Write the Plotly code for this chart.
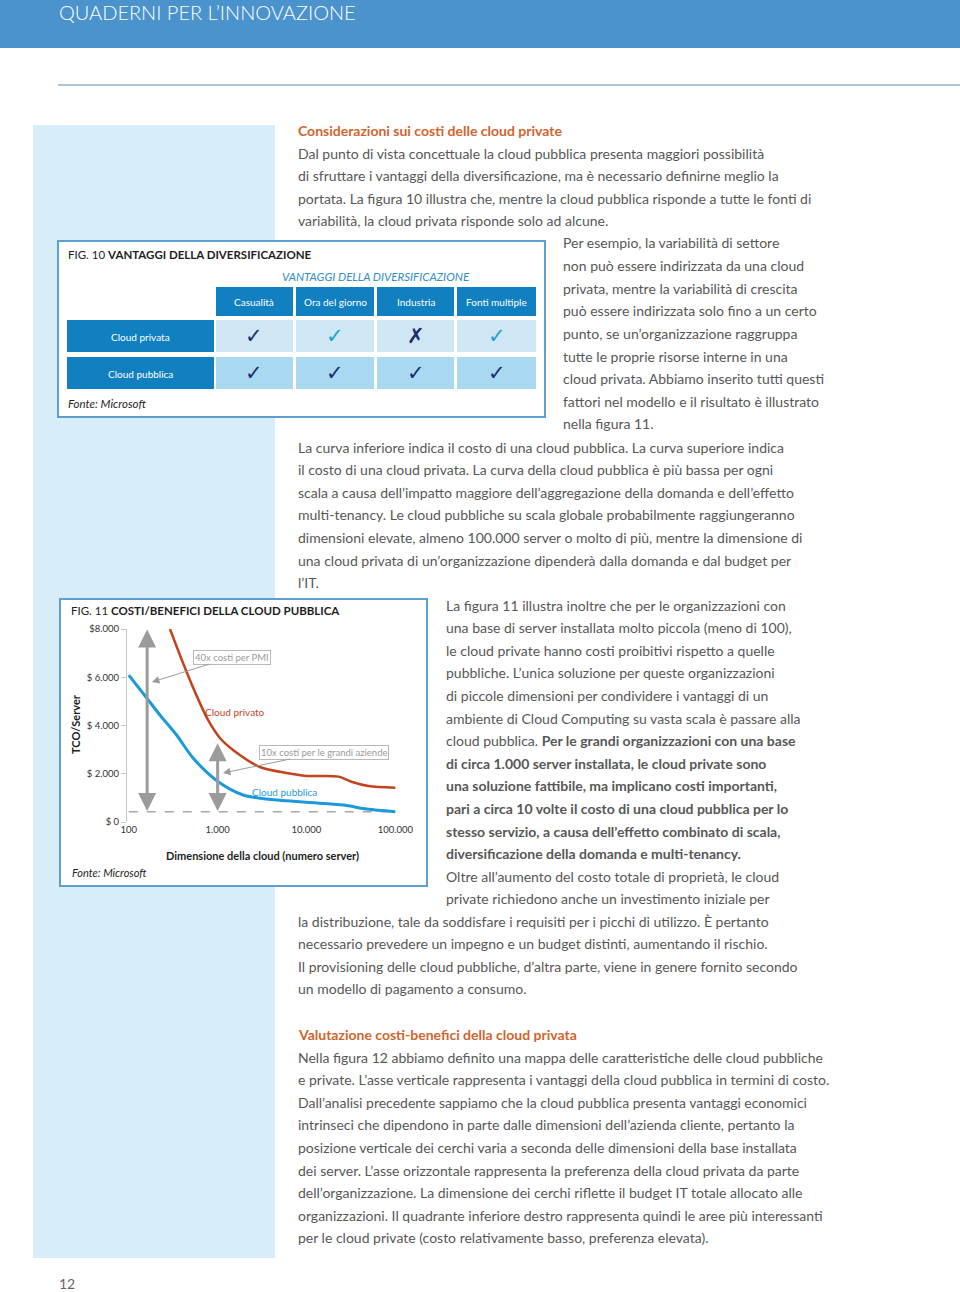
import plotly.graph_objects as go
import numpy as np

W, H = 960, 1292
FONT = "Lato"

# ---------------- Data: FIG. 11 ----------------
public_servers = [100, 160, 224, 345, 532, 1016, 1940, 3560, 10000, 25900, 47800, 100000]
public_tco = [6090, 5130, 4435, 3606, 2640, 1670, 1120, 950, 815, 700, 540, 430]
private_servers = [291, 408, 556, 780, 1062, 1490, 2990, 6000, 10000, 23000, 32000, 50000, 100000]
private_tco = [8000, 6590, 5390, 4230, 3480, 2985, 2280, 2030, 1910, 1880, 1670, 1490, 1420]
baseline_servers = [100, 100000]
baseline_tco = [430, 430]
x_ticks = [100, 1000, 10000, 100000]
x_ticklabels = ["100", "1.000", "10.000", "100.000"]
y_ticks = [0, 2000, 4000, 6000, 8000]
y_ticklabels = ["$ 0", "$ 2.000", "$ 4.000", "$ 6.000", "$8.000"]
gap_pmi_servers = 161
gap_pmi_range = [455, 8040]
gap_big_servers = 1000
gap_big_range = [455, 3325]

# ---------------- Data: FIG. 10 ----------------
fig10_columns = ["Casualità", "Ora del giorno", "Industria", "Fonti multiple"]
fig10_rows = ["Cloud privata", "Cloud pubblica"]
fig10_marks = [["✓", "✓", "✗", "✓"], ["✓", "✓", "✓", "✓"]]
fig10_highlight = [[0, 1, 0, 1], [0, 0, 0, 0]]

# ---------------- Text ----------------
header_title = "QUADERNI PER L’INNOVAZIONE"
heading1 = "Considerazioni sui costi delle cloud private"
heading2 = "Valutazione costi-benefici della cloud privata"
block1 = [
    "Dal punto di vista concettuale la cloud pubblica presenta maggiori possibilità",
    "di sfruttare i vantaggi della diversificazione, ma è necessario definirne meglio la",
    "portata. La figura 10 illustra che, mentre la cloud pubblica risponde a tutte le fonti di",
    "variabilità, la cloud privata risponde solo ad alcune.",
]
block2 = [
    "Per esempio, la variabilità di settore",
    "non può essere indirizzata da una cloud",
    "privata, mentre la variabilità di crescita",
    "può essere indirizzata solo fino a un certo",
    "punto, se un’organizzazione raggruppa",
    "tutte le proprie risorse interne in una",
    "cloud privata. Abbiamo inserito tutti questi",
    "fattori nel modello e il risultato è illustrato",
    "nella figura 11.",
]
block3 = [
    "La curva inferiore indica il costo di una cloud pubblica. La curva superiore indica",
    "il costo di una cloud privata. La curva della cloud pubblica è più bassa per ogni",
    "scala a causa dell’impatto maggiore dell’aggregazione della domanda e dell’effetto",
    "multi-tenancy. Le cloud pubbliche su scala globale probabilmente raggiungeranno",
    "dimensioni elevate, almeno 100.000 server o molto di più, mentre la dimensione di",
    "una cloud privata di un’organizzazione dipenderà dalla domanda e dal budget per",
    "l’IT.",
]
block4 = [
    "La figura 11 illustra inoltre che per le organizzazioni con",
    "una base di server installata molto piccola (meno di 100),",
    "le cloud private hanno costi proibitivi rispetto a quelle",
    "pubbliche. L’unica soluzione per queste organizzazioni",
    "di piccole dimensioni per condividere i vantaggi di un",
    "ambiente di Cloud Computing su vasta scala è passare alla",
    "cloud pubblica. <b>Per le grandi organizzazioni con una base</b>",
    "<b>di circa 1.000 server installata, le cloud private sono</b>",
    "<b>una soluzione fattibile, ma implicano costi importanti,</b>",
    "<b>pari a circa 10 volte il costo di una cloud pubblica per lo</b>",
    "<b>stesso servizio, a causa dell’effetto combinato di scala,</b>",
    "<b>diversificazione della domanda e multi-tenancy.</b>",
    "Oltre all’aumento del costo totale di proprietà, le cloud",
    "private richiedono anche un investimento iniziale per",
]
block5 = [
    "la distribuzione, tale da soddisfare i requisiti per i picchi di utilizzo. È pertanto",
    "necessario prevedere un impegno e un budget distinti, aumentando il rischio.",
    "Il provisioning delle cloud pubbliche, d’altra parte, viene in genere fornito secondo",
    "un modello di pagamento a consumo.",
]
block6 = [
    "Nella figura 12 abbiamo definito una mappa delle caratteristiche delle cloud pubbliche",
    "e private. L’asse verticale rappresenta i vantaggi della cloud pubblica in termini di costo.",
    "Dall’analisi precedente sappiamo che la cloud pubblica presenta vantaggi economici",
    "intrinseci che dipendono in parte dalle dimensioni dell’azienda cliente, pertanto la",
    "posizione verticale dei cerchi varia a seconda delle dimensioni della base installata",
    "dei server. L’asse orizzontale rappresenta la preferenza della cloud privata da parte",
    "dell’organizzazione. La dimensione dei cerchi riflette il budget IT totale allocato alle",
    "organizzazioni. Il quadrante inferiore destro rappresenta quindi le aree più interessanti",
    "per le cloud private (costo relativamente basso, preferenza elevata).",
]

# ---------------- Helpers ----------------
def X(px):
    return px / W

def Y(py):
    return 1 - py / H

shapes = []
anns = []

def rect(x0, y0, x1, y1, fill, line=None, lw=0):
    shapes.append(dict(type="rect", xref="paper", yref="paper",
                       x0=X(x0), x1=X(x1), y0=Y(y1), y1=Y(y0),
                       fillcolor=fill, line=dict(color=line or "rgba(0,0,0,0)", width=lw),
                       layer="below"))

def hline(x0, x1, y, color, w=1):
    shapes.append(dict(type="line", xref="paper", yref="paper",
                       x0=X(x0), x1=X(x1), y0=Y(y), y1=Y(y),
                       line=dict(color=color, width=w), layer="below"))

def text(x, y, s, size=14, color="#555555", anchor="left", family=FONT, angle=0, weight=None):
    f = dict(size=size, color=color, family=family)
    if weight:
        f["weight"] = weight
    anns.append(dict(xref="paper", yref="paper", x=X(x), y=Y(y), text=s,
                     showarrow=False, xanchor=anchor, yanchor="middle",
                     font=f, textangle=angle, borderpad=0))

BODY = 14
LH = 22.6
BODY_COLOR = "#575757"
ORANGE = "#d2642d"

# ---------------- Page background ----------------
rect(0, 0, W, 48, "#4b93cc")
text(58, 12, header_title, size=20, color="white", weight=300)
hline(58, W, 85, "#8fb3d6", 1.5)
rect(33, 125, 275, 1258, "#d7edf8")

# ---------------- Body text ----------------
text(297, 130, "<b>" + heading1 + "</b>", size=BODY, color=ORANGE)

def block(lines, x, y0):
    for i, s in enumerate(lines):
        text(x, y0 + i * LH, s, size=BODY, color=BODY_COLOR)

block(block1, 297, 153)
block(block2, 562, 243)
block(block3, 297, 447)
block(block4, 445, 605)
block(block5, 297, 921)
text(297, 1034, "<b>" + heading2 + "</b>", size=BODY, color=ORANGE)
block(block6, 297, 1057)
text(58, 1283, "12", size=14, color="#666666")

# ---------------- FIG. 10 table ----------------
rect(58, 241, 545, 417, "white", "#5b9fd3", 2)
text(67, 254, "FIG. 10 <b>VANTAGGI DELLA DIVERSIFICAZIONE</b>", size=11.5, color="#1e1e1e")
text(376, 276, "<i>VANTAGGI DELLA DIVERSIFICAZIONE</i>", size=11.5, color="#2f8dc6", anchor="center")
col_x = [(216, 293), (296, 374), (377, 454), (457, 536)]
row_y = [(320, 352), (357, 389)]
HEAD_BLUE = "#1180c1"
row_fill = ["#cfe6f4", "#a9d8f1"]
for (x0, x1), name in zip(col_x, fig10_columns):
    rect(x0, 287, x1, 316, HEAD_BLUE)
    text((x0 + x1) / 2, 301.5, name, size=10, color="white", anchor="center")
for r, ((y0, y1), name) in enumerate(zip(row_y, fig10_rows)):
    rect(67, y0, 214, y1, HEAD_BLUE)
    text(140.5, (y0 + y1) / 2 + 1, name, size=10, color="white", anchor="center")
    for c, (x0, x1) in enumerate(col_x):
        rect(x0, y0, x1, y1, row_fill[r])
        col = "#1aa3c9" if fig10_highlight[r][c] else "#1b2d6b"
        text((x0 + x1) / 2, (y0 + y1) / 2, "<b>" + fig10_marks[r][c] + "</b>", size=21,
             color=col, anchor="center", family="DejaVu Sans")
text(67, 403, "<i>Fonte: Microsoft</i>", size=11.5, color="#1e1e1e")

# ---------------- FIG. 11 chart ----------------
rect(60, 599, 427, 886, "white", "#5b9fd3", 2)
text(70, 610, "FIG. 11 <b>COSTI/BENEFICI DELLA CLOUD PUBBLICA</b>", size=11.5, color="#1e1e1e")
text(75, 724, "<b>TCO/Server</b>", size=11, color="#1e1e1e", anchor="center", angle=-90)
text(262, 855, "<b>Dimensione della cloud (numero server)</b>", size=11, color="#1e1e1e", anchor="center")
text(71, 872, "<i>Fonte: Microsoft</i>", size=11, color="#1e1e1e")

RED = "#c1431f"
BLUE = "#1a9ad8"
GREY = "#9b9b9b"

fig = go.Figure()
fig.add_trace(go.Scatter(x=baseline_servers, y=baseline_tco, mode="lines",
                         line=dict(color="#a8a8a8", width=1.5, dash="dash"),
                         hoverinfo="skip", showlegend=False, cliponaxis=False))
fig.add_trace(go.Scatter(x=private_servers, y=private_tco, mode="lines", name="Cloud privato",
                         line=dict(color=RED, width=2.5, shape="spline", smoothing=0.8),
                         showlegend=False, cliponaxis=False))
fig.add_trace(go.Scatter(x=public_servers, y=public_tco, mode="lines", name="Cloud pubblica",
                         line=dict(color=BLUE, width=3, shape="spline", smoothing=0.8),
                         showlegend=False, cliponaxis=False))

# double arrows
for sv, (lo, hi) in [(gap_pmi_servers, gap_pmi_range), (gap_big_servers, gap_big_range)]:
    anns.append(dict(x=np.log10(sv), y=lo, ax=np.log10(sv), ay=hi, xref="x", yref="y",
                     axref="x", ayref="y", text="", showarrow=True, arrowside="end+start",
                     arrowhead=2, startarrowhead=2, arrowsize=1.2, startarrowsize=1.2,
                     arrowwidth=3, arrowcolor=GREY))

# callouts
anns.append(dict(x=np.log10(182), y=5800, xref="x", yref="y", text="40x costi per PMI",
                 showarrow=True, ax=80, ay=-25, arrowhead=2, arrowsize=1.5, arrowwidth=1,
                 arrowcolor=GREY, bordercolor="#b8b8b8", borderwidth=1, borderpad=1,
                 font=dict(size=9.5, color="#9a9a9a", family=FONT)))
anns.append(dict(x=np.log10(1148), y=2030, xref="x", yref="y", text="10x costi per le grandi aziende",
                 showarrow=True, ax=101, ay=-21, arrowhead=2, arrowsize=1.5, arrowwidth=1,
                 arrowcolor=GREY, bordercolor="#b8b8b8", borderwidth=1, borderpad=1,
                 font=dict(size=9.5, color="#9a9a9a", family=FONT)))
anns.append(dict(x=np.log10(1570), y=4560, xref="x", yref="y", text="Cloud privato",
                 showarrow=False, font=dict(size=10, color=RED, family=FONT)))
anns.append(dict(x=np.log10(5710), y=1243, xref="x", yref="y", text="Cloud pubblica",
                 showarrow=False, font=dict(size=10, color=BLUE, family=FONT)))

fig.update_layout(
    width=W, height=H, autosize=False,
    margin=dict(l=0, r=0, t=0, b=0, pad=0, autoexpand=False),
    paper_bgcolor="white", plot_bgcolor="rgba(0,0,0,0)",
    font=dict(family=FONT, color="#333333"),
    shapes=shapes, annotations=anns, showlegend=False,
    xaxis=dict(type="log", domain=[X(127), X(398)], range=[1.98, 5.03],
               tickvals=x_ticks, ticktext=x_ticklabels, showgrid=False, zeroline=False,
               showline=False, ticks="", tickfont=dict(size=9.5, color="#333333"), anchor="y",
               automargin=False),
    yaxis=dict(domain=[Y(822), Y(629)], range=[0, 8000], tickvals=y_ticks, ticktext=y_ticklabels,
               showgrid=False, zeroline=False, showline=True, linecolor="#c8c8c8", linewidth=1,
               ticks="outside", ticklen=5, tickcolor="#c8c8c8",
               tickfont=dict(size=9.5, color="#333333"), anchor="x", automargin=False),
)

fig.write_html(
    "out.html",
    config={"displayModeBar": False},
    post_script="document.body.style.margin='0';document.body.style.overflow='hidden';",
)
